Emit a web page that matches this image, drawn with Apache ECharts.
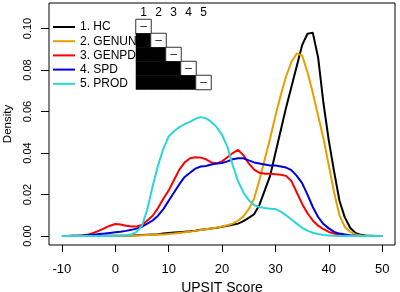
<!DOCTYPE html>
<html>
<head>
<meta charset="utf-8">
<script src="https://cdn.jsdelivr.net/npm/echarts@6/dist/echarts.min.js"></script>
<style>html,body{margin:0;padding:0;background:#fff}#c{width:400px;height:292px}</style>
</head>
<body>
<div id="c"></div>
<script>
// UPSIT score grid
var scores = [-10,-9,-8,-7,-6,-5,-4,-3,-2,-1,0,1,2,3,4,5,6,7,8,9,10,11,12,13,14,15,16,17,18,19,20,21,22,23,24,25,26,27,28,29,30,31,32,33,34,35,36,37,38,39,40,41,42,43,44,45,46,47,48,49,50];
var seriesNames = ['1. HC','2. GENUN','3. GENPD','4. SPD','5. PROD'];
var seriesColors = ['#000000','#E69F00','#FF0000','#0000E0','#2AD6D6'];
var hc = [0,0,0,0,0,0,0,0,0.0001,0.0001,0.0001,0.0002,0.0002,0.0003,0.0004,0.0005,0.0006,0.0007,0.0009,0.0012,0.0015,0.0017,0.0019,0.0021,0.0023,0.0026,0.003,0.0033,0.0037,0.004,0.0045,0.005,0.0055,0.006,0.0072,0.0088,0.0105,0.015,0.022,0.029,0.040,0.051,0.062,0.072,0.082,0.092,0.0975,0.098,0.086,0.064,0.046,0.031,0.017,0.009,0.004,0.0015,0.0006,0.0002,0.0001,0,0];
var genun = [0,0,0,0,0,0,0,0,0,0,0.0001,0.0001,0.0002,0.0002,0.0003,0.0004,0.0005,0.0006,0.0007,0.0008,0.001,0.0012,0.0015,0.0018,0.0021,0.0025,0.0029,0.0033,0.0037,0.0041,0.0046,0.0052,0.006,0.0075,0.0095,0.013,0.018,0.027,0.037,0.047,0.058,0.068,0.077,0.084,0.088,0.087,0.079,0.069,0.058,0.047,0.034,0.021,0.010,0.0045,0.002,0.0008,0.0003,0.0001,0,0,0];
var genpd = [0,0,0.0001,0.0002,0.0004,0.0008,0.0016,0.0026,0.0038,0.005,0.0058,0.0056,0.005,0.0046,0.0046,0.0053,0.0075,0.0098,0.0135,0.018,0.022,0.027,0.032,0.0355,0.0375,0.038,0.0378,0.037,0.0355,0.035,0.036,0.038,0.040,0.0415,0.039,0.035,0.032,0.0305,0.030,0.030,0.0298,0.0295,0.029,0.0265,0.021,0.0155,0.011,0.0075,0.005,0.0033,0.002,0.0012,0.0006,0.0003,0.0001,0,0,0,0,0,0];
var spd = [0,0,0.0001,0.0002,0.0003,0.0005,0.0007,0.001,0.0012,0.0015,0.0018,0.0021,0.0025,0.003,0.0036,0.0045,0.006,0.0075,0.0098,0.013,0.017,0.021,0.025,0.0285,0.0305,0.0325,0.0335,0.0338,0.0345,0.035,0.0352,0.036,0.037,0.0375,0.0375,0.0365,0.0355,0.035,0.0345,0.034,0.034,0.0335,0.033,0.0318,0.029,0.0255,0.020,0.014,0.0092,0.0058,0.0037,0.002,0.0012,0.0008,0.0004,0.0002,0,0,0,0,0];
var prod = [0,0,0,0,0,0,0,0,0,0,0,0.0001,0.0003,0.0008,0.002,0.005,0.013,0.024,0.034,0.042,0.048,0.0505,0.0525,0.054,0.055,0.0565,0.0573,0.0567,0.055,0.0525,0.0487,0.043,0.034,0.0265,0.021,0.0173,0.015,0.014,0.0135,0.0132,0.013,0.0118,0.010,0.008,0.006,0.004,0.0026,0.0016,0.001,0.0005,0.0003,0.0001,0,0,0,0,0,0,0,0,0];
var xTicks = [-10,0,10,20,30,40,50];
var yTicks = [0,0.02,0.04,0.06,0.08,0.10];
// pairwise comparison matrix (1 = significant, 0 = diagonal)
var matrixLabels = ['1','2','3','4','5'];
var matrixCells = [
  [0,0,0],
  [0,1,1],[1,1,0],
  [0,2,1],[1,2,1],[2,2,0],
  [0,3,1],[1,3,1],[2,3,1],[3,3,0],
  [0,4,1],[1,4,1],[2,4,1],[3,4,1],[4,4,0]
];

var FONT = 'Liberation Sans, Arial, sans-serif';
var allValues = [hc, genun, genpd, spd, prod];
var lineSeries = allValues.map(function (vals, i) {
  return {
    name: seriesNames[i], type: 'line', xAxisIndex: 0, yAxisIndex: 0,
    data: scores.map(function (s, k) { return [s, vals[k]]; }),
    symbol: 'none', showSymbol: false, smooth: false,
    lineStyle: { color: seriesColors[i], width: 2 },
    itemStyle: { color: seriesColors[i] },
    z: 2 + i, animation: false
  };
});

var heat = {
  type: 'heatmap', xAxisIndex: 1, yAxisIndex: 1, animation: false, z: 20,
  data: matrixCells.map(function (c) {
    if (c[2] === 1) {
      return { value: c, itemStyle: { color: '#000', borderWidth: 0 }, label: { show: false } };
    }
    return { value: c, itemStyle: { color: '#fff', borderColor: '#333', borderWidth: 1 },
      label: { show: true, formatter: '\u2013', color: '#222', fontSize: 12, fontFamily: FONT } };
  }),
  emphasis: { disabled: true }
};

var chart = echarts.init(document.getElementById('c'), null, { renderer: 'canvas' });
chart.setOption({
  animation: false,
  backgroundColor: '#fff',
  grid: [
    { left: 49, right: 5, top: 3, bottom: 47, show: true, borderColor: '#000', borderWidth: 1, backgroundColor: 'transparent', z: 0,
      containLabel: false, outerBoundsMode: 'none' },
    { left: 136, top: 19.5, width: 75, height: 70, show: false, z: 20, containLabel: false, outerBoundsMode: 'none' }
  ],
  xAxis: [
    { type: 'value', gridIndex: 0, min: -12.42, max: 52.4,
      axisLine: { show: false, onZero: false }, splitLine: { show: false },
      axisTick: { show: true, inside: false, length: 7, customValues: xTicks, lineStyle: { color: '#000', width: 1 } },
      axisLabel: { show: true, customValues: xTicks, color: '#000', fontSize: 13, fontFamily: FONT, margin: 18 },
      name: 'UPSIT Score', nameLocation: 'middle', nameGap: 32,
      nameTextStyle: { color: '#000', fontSize: 14, fontFamily: FONT } },
    { type: 'category', gridIndex: 1, position: 'top', data: matrixLabels,
      axisLine: { show: false, onZero: false }, axisTick: { show: false }, splitLine: { show: false },
      axisLabel: { color: '#000', fontSize: 12, fontFamily: FONT, margin: 1 } }
  ],
  yAxis: [
    { type: 'value', gridIndex: 0, min: -0.0043, max: 0.1123,
      axisLine: { show: false, onZero: false }, splitLine: { show: false },
      axisTick: { show: true, inside: false, length: 8, customValues: yTicks, lineStyle: { color: '#000', width: 1 } },
      axisLabel: { show: true, customValues: yTicks, rotate: 90, color: '#000', fontSize: 11, fontFamily: FONT, margin: 16,
        formatter: function (v) { return v.toFixed(2); } },
      name: 'Density', nameLocation: 'middle', nameGap: 35,
      nameTextStyle: { color: '#000', fontSize: 11.5, fontFamily: FONT } },
    { type: 'category', gridIndex: 1, inverse: true, data: matrixLabels, show: false,
      axisLine: { onZero: false } }
  ],
  legend: {
    show: true, orient: 'vertical', left: 53, top: 21, padding: 0, itemWidth: 22, itemHeight: 2, itemGap: 2.2,
    icon: 'rect', data: seriesNames,
    textStyle: { color: '#000', fontSize: 12, fontFamily: FONT },
    selectedMode: false
  },
  series: lineSeries.concat([heat])
});
</script>
</body>
</html>
